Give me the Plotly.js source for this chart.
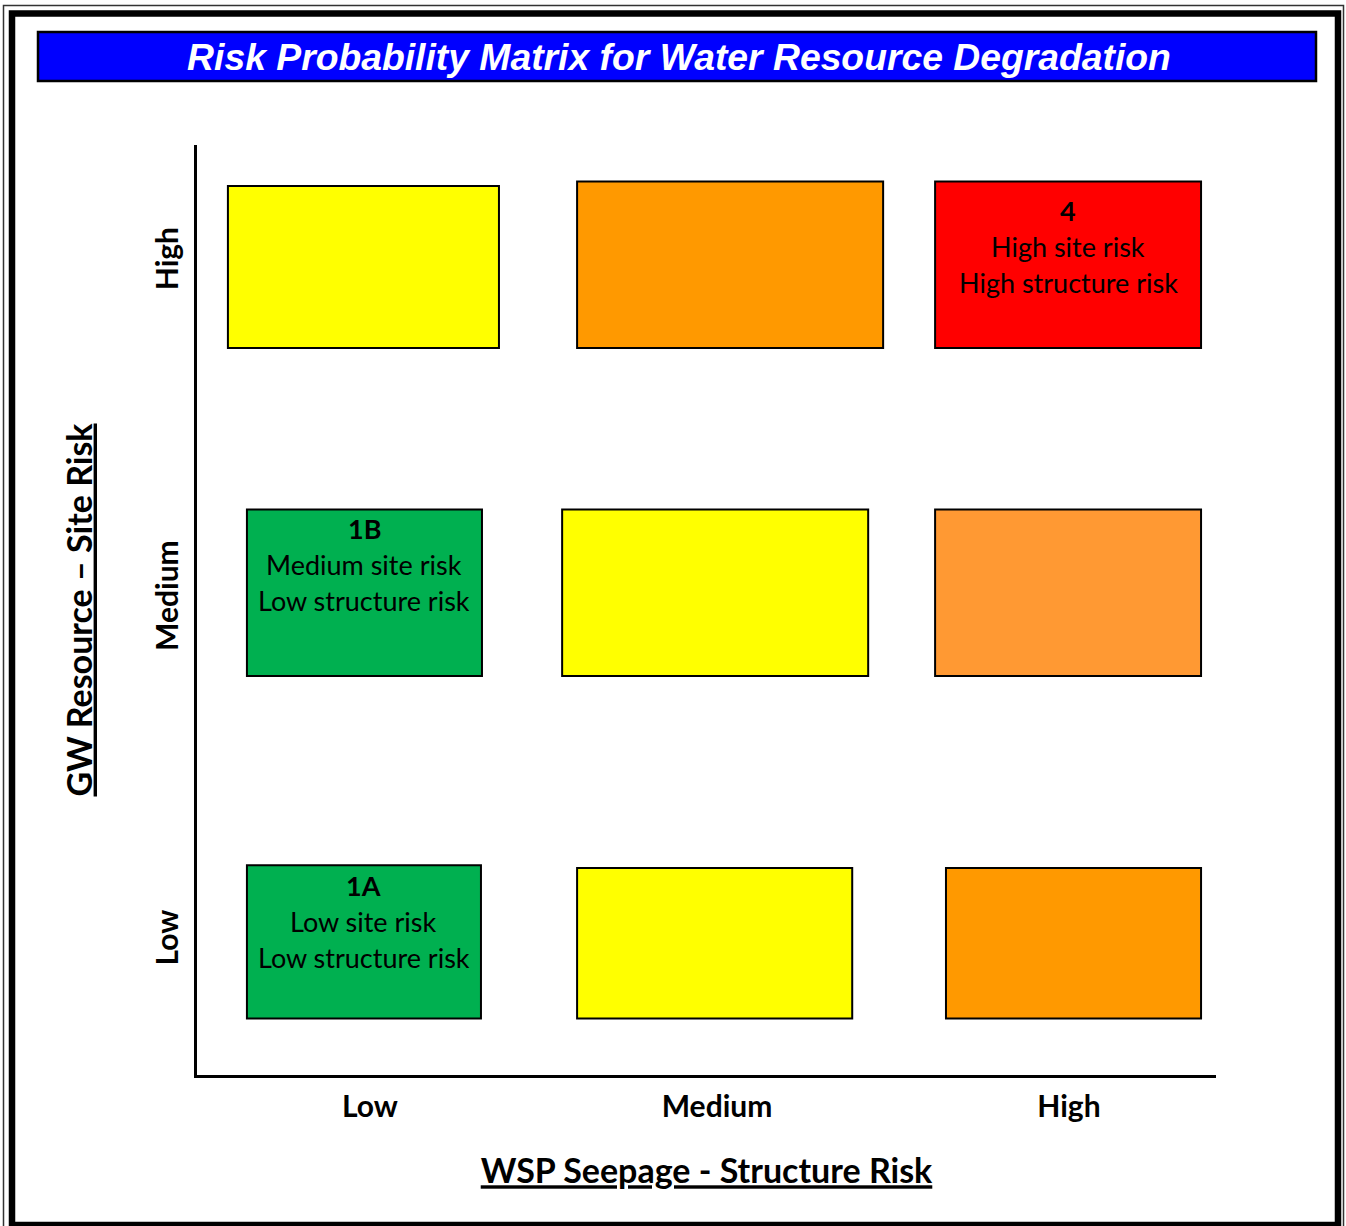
<!DOCTYPE html>
<html>
<head>
<meta charset="utf-8">
<script src="https://cdn.plot.ly/plotly-3.0.1.min.js"></script>
<style>
  html, body { margin: 0; padding: 0; background: #ffffff; }
  #chart { width: 1346px; height: 1226px; }
</style>
</head>
<body>
<div id="chart"></div>
<script>
// ---------- DATA ----------
const levelLabels = ['Low', 'Medium', 'High'];
const xTickVals = [0.509, 1.531, 2.567];
const yTickVals = [0.429, 1.532, 2.619];

// cells: row-major from top (High site risk) to bottom (Low site risk)
const cellSiteRisk      = ['High', 'High', 'High', 'Medium', 'Medium', 'Medium', 'Low', 'Low', 'Low'];
const cellStructureRisk = ['Low', 'Medium', 'High', 'Low', 'Medium', 'High', 'Low', 'Medium', 'High'];
const cellColors = ['#FFFF00', '#FF9900', '#FF0000', '#00B050', '#FFFF00', '#FF9933', '#00B050', '#FFFF00', '#FF9900'];
const cellX0 = [0.091, 1.119, 2.173, 0.147, 1.075, 2.173, 0.147, 1.119, 2.205];
const cellX1 = [0.889, 2.020, 2.956, 0.839, 1.976, 2.956, 0.836, 1.929, 2.956];
const cellY0 = [2.345, 2.345, 2.345, 1.287, 1.287, 1.287, 0.182, 0.182, 0.182];
const cellY1 = [2.868, 2.882, 2.882, 1.824, 1.824, 1.824, 0.677, 0.668, 0.668];
const cellCodes  = ['', '', '4', '1B', '', '', '1A', '', ''];
const cellLineA  = ['', '', 'High site risk', 'Medium site risk', '', '', 'Low site risk', '', ''];
const cellLineB  = ['', '', 'High structure risk', 'Low structure risk', '', '', 'Low structure risk', '', ''];

const chartTitle = 'Risk Probability Matrix for Water Resource Degradation';
const xTitle = 'WSP Seepage - Structure Risk';
const yTitle = 'GW Resource \u2013 Site Risk';

// ---------- LAYOUT HELPERS ----------
const W = 1346, H = 1226;
const M = { l: 197, r: 130, t: 145, b: 151 };
const pw = W - M.l - M.r, ph = H - M.t - M.b;
const px = v => (v - M.l) / pw;          // pixel x -> paper x
const py = v => (H - M.b - v) / ph;      // pixel y -> paper y

const textFirstOffset = [0, 0, 29, 19, 0, 0, 20, 0, 0];
const lineGap = 36;
const cellFont = 'Lato, "Open Sans", sans-serif';

const shapes = [];
// outer double frame
shapes.push({ type: 'rect', xref: 'paper', yref: 'paper', x0: px(3.5), x1: px(1343.5), y0: py(5.5), y1: py(1232),
  line: { color: '#333333', width: 1.5 }, fillcolor: 'rgba(0,0,0,0)', layer: 'below' });
shapes.push({ type: 'rect', xref: 'paper', yref: 'paper', x0: px(12), x1: px(1338), y0: py(13.5), y1: py(1225),
  line: { color: '#000000', width: 6.5 }, fillcolor: 'rgba(0,0,0,0)', layer: 'below' });
// title box
shapes.push({ type: 'rect', xref: 'paper', yref: 'paper', x0: px(38), x1: px(1316), y0: py(32), y1: py(81),
  line: { color: '#000000', width: 2.5 }, fillcolor: '#0000FF', layer: 'below' });

// cells
for (let i = 0; i < cellColors.length; i++) {
  shapes.push({ type: 'rect', xref: 'x', yref: 'y', x0: cellX0[i], x1: cellX1[i], y0: cellY0[i], y1: cellY1[i],
    fillcolor: cellColors[i], line: { color: '#000000', width: 2 }, layer: 'above' });
}

const annotations = [];
for (let i = 0; i < cellColors.length; i++) {
  const lines = [cellCodes[i] ? '<b>' + cellCodes[i] + '</b>' : '', cellLineA[i], cellLineB[i]];
  lines.forEach((t, k) => {
    if (!t) return;
    annotations.push({
      xref: 'x', yref: 'y', x: (cellX0[i] + cellX1[i]) / 2, y: cellY1[i],
      yshift: -(textFirstOffset[i] + k * lineGap), xanchor: 'center', yanchor: 'middle',
      text: t, showarrow: false, font: { family: cellFont, size: 27, color: '#000000' }
    });
  });
}

const trace = {
  x: cellX0.map((v, i) => (v + cellX1[i]) / 2),
  y: cellY0.map((v, i) => (v + cellY1[i]) / 2),
  mode: 'markers', type: 'scatter',
  marker: { size: 1, opacity: 0 },
  text: cellSiteRisk.map((s, i) => 'Site: ' + s + ', Structure: ' + cellStructureRisk[i]),
  hoverinfo: 'text', showlegend: false
};

const layout = {
  width: W, height: H,
  margin: M,
  paper_bgcolor: '#ffffff', plot_bgcolor: '#ffffff',
  showlegend: false,
  title: {
    text: '<b><i>' + chartTitle + '</i></b>',
    xref: 'container', yref: 'container', x: 679 / W, y: 1 - 57 / H,
    xanchor: 'center', yanchor: 'middle',
    font: { family: '"Liberation Sans", Arial, sans-serif', size: 37.3, color: '#ffffff' }
  },
  xaxis: {
    range: [0, 3], showgrid: false, zeroline: false,
    showline: true, linecolor: '#000000', linewidth: 3, mirror: false,
    tickvals: xTickVals, ticktext: levelLabels, ticks: '',
    tickfont: { family: cellFont, size: 30, color: '#000000', weight: 'bold' },
    ticklabelstandoff: 3,
    title: { text: '<u>' + xTitle + '</u>', standoff: 38,
      font: { family: cellFont, size: 34, color: '#000000', weight: 'bold' } },
    fixedrange: true
  },
  yaxis: {
    range: [0, 3], showgrid: false, zeroline: false,
    showline: true, linecolor: '#000000', linewidth: 3, mirror: false,
    tickvals: yTickVals, ticktext: levelLabels, ticks: '', tickangle: -90,
    tickfont: { family: cellFont, size: 30, color: '#000000', weight: 'bold' },
    ticklabelstandoff: 4,
    title: { text: '<u>' + yTitle + '</u>', standoff: 46,
      font: { family: cellFont, size: 34, color: '#000000', weight: 'bold' } },
    fixedrange: true
  },
  shapes: shapes,
  annotations: annotations
};

Plotly.newPlot('chart', [trace], layout, { displayModeBar: false, staticPlot: true });
</script>
</body>
</html>
